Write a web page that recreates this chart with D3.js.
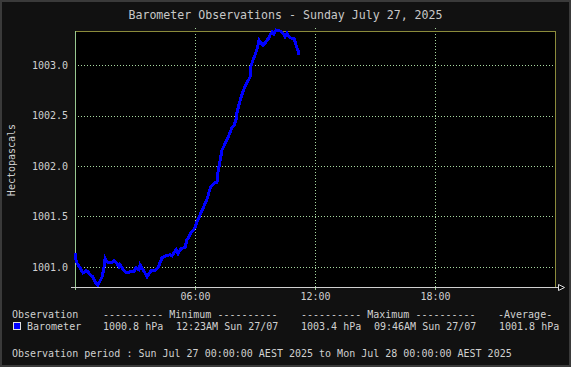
<!DOCTYPE html>
<html>
<head>
<meta charset="utf-8">
<script src="https://cdn.jsdelivr.net/npm/d3@7"></script>
<style>
  body { margin: 0; background: #111; }
  svg { display: block; }
  text { font-family: "DejaVu Sans Mono", monospace; }
</style>
</head>
<body>
<svg id="chart" width="571" height="367"></svg>
<script>
// barometer readings, Sun 27/07
const times = ["00:00","00:03","00:07","00:15","00:20","00:24","00:33","00:39","00:45","00:54",
  "01:00","01:09","01:15","01:21","01:26","01:30","01:33","01:39","01:51","01:57",
  "02:06","02:12","02:15","02:21","02:30","02:36","02:45","02:57","03:03","03:12",
  "03:15","03:24","03:30","03:36","03:42","03:48","04:00","04:09","04:15","04:21",
  "04:33","04:45","04:51","04:57","05:03","05:09","05:18","05:27","05:30","05:36",
  "05:42","05:48","05:54","06:00","06:06","06:12","06:18","06:24","06:30","06:36",
  "06:42","06:48","06:57","07:06","07:09","07:15","07:21","07:27","07:36","07:42",
  "07:51","07:57","08:03","08:06","08:12","08:18","08:24","08:33","08:45","08:48",
  "08:54","09:00","09:06","09:09","09:12","09:18","09:24","09:30","09:36","09:42",
  "09:45","09:51","09:57","10:03","10:15","10:24","10:30","10:36","10:42","10:48",
  "10:57","11:03","11:06","11:09","11:12"];
const pressure = [1001.14,1001.07,1001.03,1000.99,1000.96,1000.94,1000.96,1000.95,1000.92,1000.90,
  1000.85,1000.82,1000.86,1000.90,1000.97,1001.08,1001.06,1001.04,1001.04,1001.06,
  1001.03,1001.00,1001.02,1000.99,1000.95,1000.94,1000.95,1000.95,1000.99,1000.97,
  1001.02,1000.97,1000.94,1000.90,1000.93,1000.96,1000.96,1000.99,1001.04,1001.09,
  1001.11,1001.12,1001.11,1001.14,1001.17,1001.13,1001.18,1001.19,1001.19,1001.27,
  1001.30,1001.34,1001.36,1001.39,1001.45,1001.49,1001.54,1001.58,1001.63,1001.67,
  1001.74,1001.80,1001.83,1001.84,1001.94,1002.05,1002.16,1002.20,1002.26,1002.31,
  1002.38,1002.40,1002.46,1002.53,1002.61,1002.68,1002.74,1002.81,1002.88,1002.99,
  1003.05,1003.10,1003.16,1003.20,1003.25,1003.22,1003.20,1003.22,1003.25,1003.27,
  1003.30,1003.33,1003.31,1003.35,1003.34,1003.32,1003.28,1003.32,1003.28,1003.27,
  1003.27,1003.20,1003.17,1003.15,1003.10];

const yTicks = [1001.0, 1001.5, 1002.0, 1002.5, 1003.0];
const xTicks = [0, 6, 12, 18];
const xTickLabels = ["", "06:00", "12:00", "18:00"];

const legendHeader = ["Observation", "---------- Minimum ----------", "---------- Maximum ----------", "-Average-"];
const legendRow = ["Barometer", "1000.8 hPa", "12:23AM Sun 27/07", "1003.4 hPa", "09:46AM Sun 27/07", "1001.8 hPa"];
const periodText = "Observation period : Sun Jul 27 00:00:00 AEST 2025 to Mon Jul 28 00:00:00 AEST 2025";

const svg = d3.select("#chart");
const W = 571, H = 367;
const pLeft = 75, pRight = 555, pTop = 31, pBottom = 287;

const gridColor = "#a8d8a0", frameColor = "#8b8b3b", textColor = "#d0d0d0";

// background + outer frame
svg.append("rect").attr("width", W).attr("height", H).attr("fill", "#111");
svg.append("rect").attr("x", 1).attr("y", 1).attr("width", W - 2).attr("height", H - 2)
  .attr("fill", "none").attr("stroke", "#3a3a3a").attr("stroke-width", 2);

const x = d3.scaleLinear().domain([0, 24]).range([pLeft, pRight]);
const y = d3.scaleLinear().domain([1000.8, 1003.34]).range([pBottom, pTop]);

const parseHour = s => { const p = s.split(":"); return +p[0] + p[1] / 60; };
const data = times.map((t, i) => ({ h: parseHour(t), v: pressure[i] }));

// plot area
svg.append("rect").attr("x", pLeft).attr("y", pTop)
  .attr("width", pRight - pLeft).attr("height", pBottom - pTop).attr("fill", "#000");

// grid
const grid = svg.append("g").attr("stroke", gridColor).attr("stroke-dasharray", "1,2")
  .attr("shape-rendering", "crispEdges");
grid.selectAll(".hg").data(yTicks).enter().append("line")
  .attr("x1", pLeft).attr("x2", pRight + 3)
  .attr("y1", d => Math.round(y(d)) + 0.5).attr("y2", d => Math.round(y(d)) + 0.5);
grid.selectAll(".vg").data(xTicks.slice(1)).enter().append("line")
  .attr("x1", d => Math.round(x(d)) + 0.5).attr("x2", d => Math.round(x(d)) + 0.5)
  .attr("y1", pTop - 3).attr("y2", pBottom);

// top & right frame
svg.append("path")
  .attr("d", `M${pLeft},${pTop + 0.5}H${pRight + 0.5}V${pBottom}`)
  .attr("fill", "none").attr("stroke", frameColor).attr("shape-rendering", "crispEdges");

// left axis line
svg.append("line").attr("x1", pLeft + 0.5).attr("x2", pLeft + 0.5)
  .attr("y1", pTop).attr("y2", pBottom + 3)
  .attr("stroke", "#98c890").attr("shape-rendering", "crispEdges");

// series
const line = d3.line().x(d => x(d.h)).y(d => y(d.v));
svg.append("path").datum(data)
  .attr("d", line)
  .attr("fill", "none").attr("stroke", "#0000ff").attr("stroke-width", 3)
  .attr("stroke-linejoin", "miter").attr("shape-rendering", "crispEdges");

// x ticks below axis
svg.append("g").selectAll("line").data(xTicks).enter().append("line")
  .attr("x1", d => Math.round(x(d)) + 0.5).attr("x2", d => Math.round(x(d)) + 0.5)
  .attr("y1", pBottom).attr("y2", pBottom + 3)
  .attr("stroke", "#98c890").attr("shape-rendering", "crispEdges");

// bottom axis with arrow
svg.append("line").attr("x1", pLeft - 4).attr("x2", pRight + 3)
  .attr("y1", pBottom + 0.5).attr("y2", pBottom + 0.5)
  .attr("stroke", "#d0d0d0").attr("stroke-width", 1).attr("shape-rendering", "crispEdges");
svg.append("path")
  .attr("d", `M${pRight + 3.5},${pBottom - 2.5}L${pRight + 9.5},${pBottom + 0.5}L${pRight + 3.5},${pBottom + 3.5}Z`)
  .attr("fill", "#000").attr("stroke", "#e0e0e0");

// axes labels via d3 axes
const xAxis = svg.append("g").attr("transform", `translate(0,${pBottom + 4})`)
  .call(d3.axisBottom(x).tickValues(xTicks).tickSize(0).tickPadding(0)
    .tickFormat((d, i) => xTickLabels[i]));
xAxis.select(".domain").remove();
xAxis.selectAll("text").attr("fill", textColor).attr("font-size", 10)
  .attr("font-family", "DejaVu Sans Mono").attr("dy", "0.9em");

const yAxis = svg.append("g").attr("transform", `translate(${pLeft - 7},0)`)
  .call(d3.axisLeft(y).tickValues(yTicks).tickSize(0).tickPadding(0).tickFormat(d3.format(".1f")));
yAxis.select(".domain").remove();
yAxis.selectAll("text").attr("fill", textColor).attr("font-size", 10)
  .attr("font-family", "DejaVu Sans Mono");

svg.append("text")
  .attr("transform", "translate(16,160) rotate(-90)")
  .attr("text-anchor", "middle").attr("fill", textColor).attr("font-size", 10)
  .attr("dy", "-0.1em")
  .text("Hectopascals");

// title
svg.append("text").attr("x", W / 2).attr("y", 19).attr("text-anchor", "middle")
  .attr("fill", "#c8c8c8").attr("font-size", 11.6)
  .text("Barometer Observations - Sunday July 27, 2025");

// legend table
const legend = svg.append("g").attr("fill", textColor).attr("font-size", 10);
const headerX = [12, 103, 301, 498];
legend.selectAll(".hdr").data(legendHeader).enter().append("text")
  .attr("x", (d, i) => headerX[i]).attr("y", 318).text(d => d);
const rowX = [27, 103, 176, 301, 374, 499];
legend.selectAll(".row").data(legendRow).enter().append("text")
  .attr("x", (d, i) => rowX[i]).attr("y", 330).text(d => d);
svg.append("rect").attr("x", 13.5).attr("y", 322.5).attr("width", 7).attr("height", 7)
  .attr("fill", "#0000ff").attr("stroke", "#e0e0e0");
legend.append("text").attr("x", 12).attr("y", 357).text(periodText);
</script>
</body>
</html>
